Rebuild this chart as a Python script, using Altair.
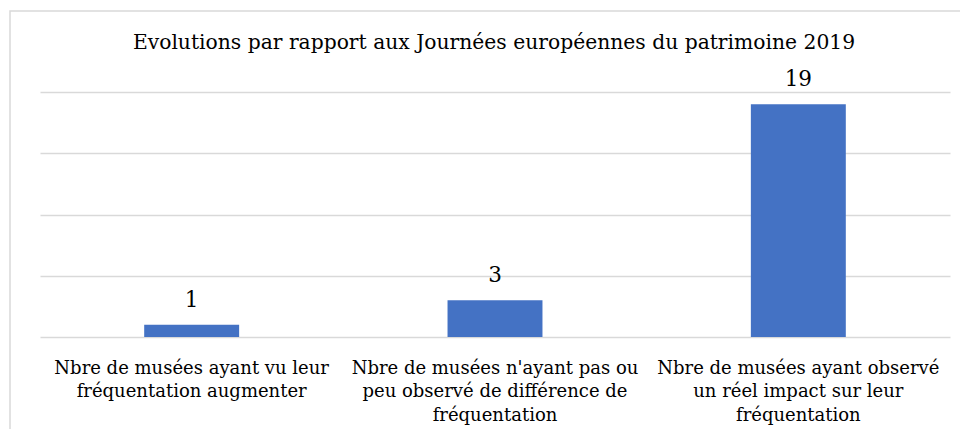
import altair as alt
import pandas as pd

categories = [
    "Nbre de musées ayant vu leur|fréquentation augmenter",
    "Nbre de musées n'ayant pas ou|peu observé de différence de|fréquentation",
    "Nbre de musées ayant observé|un réel impact sur leur|fréquentation",
]
values = [1, 3, 19]
title_text = "Evolutions par rapport aux Journées européennes du patrimoine 2019"

df = pd.DataFrame({"cat": categories, "val": values})

FONT = "DejaVu Serif"

x_enc = alt.X(
    "cat:N",
    sort=None,
    title=None,
    scale=alt.Scale(paddingInner=0.687, paddingOuter=0.3435),
    axis=alt.Axis(
        labelAngle=0,
        labelExpr="split(datum.label, '|')",
        labelFont=FONT,
        labelFontSize=18,
        labelColor="#000000",
        labelLineHeight=23.5,
        labelPadding=22,
        labelLimit=400,
        ticks=False,
        domain=False,
    ),
)
y_enc = alt.Y(
    "val:Q",
    title=None,
    scale=alt.Scale(domain=[0, 20], nice=False),
    axis=alt.Axis(
        values=[0, 5, 10, 15, 20],
        labels=False,
        ticks=False,
        domain=False,
        grid=True,
        gridColor="#d9d9d9",
        gridWidth=1.5,
    ),
)

base = alt.Chart(df)
bars = base.mark_bar(color="#4472C4").encode(x=x_enc, y=y_enc)
labels = base.mark_text(
    dy=-18, baseline="alphabetic", font=FONT, fontSize=21.5, color="#000000"
).encode(x=alt.X("cat:N", sort=None), y="val:Q", text="val:Q")

title = alt.Chart(alt.Data(values=[{"t": title_text}])).mark_text(
    baseline="alphabetic", align="center", font=FONT, fontSize=20.3, color="#000000"
).encode(x=alt.value(454), y=alt.value(-42.7), text="t:N")

border = alt.Chart(alt.Data(values=[{"a": 1}])).mark_rect(
    fill=None, stroke="#d9d9d9", strokeWidth=1.5
).encode(
    x=alt.value(-30), x2=alt.value(960), y=alt.value(-81), y2=alt.value(360)
)

chart = alt.layer(border, bars, labels, title).properties(
    width=910,
    height=245,
    autosize=alt.AutoSizeParams(type="none"),
    padding={"left": 32, "top": 84, "right": 10, "bottom": 92},
).configure_view(stroke=None)

chart.save("out.html", embed_options={"renderer": "svg", "actions": False})
